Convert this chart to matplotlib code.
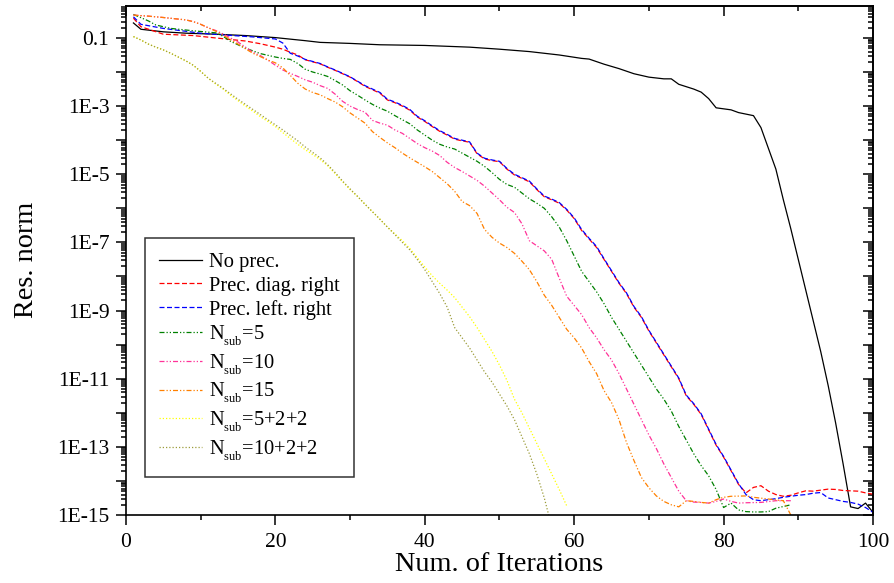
import matplotlib
matplotlib.use("Agg")
import matplotlib.pyplot as plt
import numpy as np
from matplotlib.ticker import LogLocator, FixedLocator, FuncFormatter, MultipleLocator, NullFormatter

plt.rcParams['font.family'] = ['Liberation Serif', 'DejaVu Serif']
plt.rcParams['mathtext.fontset'] = 'custom'
plt.rcParams['mathtext.rm'] = 'Liberation Serif'
plt.rcParams['mathtext.it'] = 'Liberation Serif:italic'

# smaller and lower subscripts, like the original (Origin-style) legend
try:
    import matplotlib._mathtext as _mt
    _mt.SHRINK_FACTOR = 0.6
    _mt.FontConstantsBase.sub1 = 0.65
except Exception:
    pass

# ---------------- data (iterations, log10 of residual norm) ----------------
it_noprec = [1,2,5,8,12,16,20,24,26,30,34,40,46,50,54,58,61,62,64,66,68,70,72,73,74,76,77,78,79,81,
             82,84,85,87,88,89,90,91,92,93,94,95,96,97,98,99,100]
lg_noprec = [-0.56,-0.745,-0.82,-0.86,-0.89,-0.93,-0.99,-1.08,-1.13,-1.16,-1.20,-1.22,-1.27,-1.33,-1.40,
             -1.50,-1.60,-1.62,-1.77,-1.90,-2.05,-2.15,-2.20,-2.20,-2.36,-2.50,-2.59,-2.78,-3.05,-3.11,
             -3.19,-3.28,-3.63,-4.85,-5.75,-6.6,-7.5,-8.4,-9.3,-10.2,-11.2,-12.3,-13.5,-14.76,-14.81,-14.65,-14.92]

it_diag = [1,2,5,9,12,16,18,20,21,22] + list(range(23, 101))
lg_diag = [-0.42,-0.67,-0.89,-0.93,-1.00,-1.09,-1.17,-1.27,-1.33,-1.42,
           -1.50,-1.64,-1.70,-1.76,-1.86,-1.95,-2.05,-2.15,-2.28,-2.42,
           -2.52,-2.62,-2.82,-2.90,-3.00,-3.12,-3.32,-3.45,-3.60,-3.74,
           -3.85,-3.97,-4.02,-4.06,-4.40,-4.55,-4.60,-4.63,-4.85,-5.02,
           -5.12,-5.22,-5.45,-5.66,-5.75,-5.85,-6.05,-6.30,-6.65,-6.90,
           -7.15,-7.50,-7.85,-8.20,-8.50,-8.90,-9.20,-9.60,-9.95,-10.30,
           -10.65,-11.00,-11.50,-11.75,-12.05,-12.50,-12.95,-13.30,-13.70,-14.10,
           -14.35,-14.19,-14.14,-14.30,-14.40,-14.45,-14.42,-14.35,-14.29,-14.30,
           -14.27,-14.24,-14.25,-14.28,-14.29,-14.30,-14.35,-14.39]

it_lr = [1,2,5,10,13,17,20,21,22,23] + list(range(24, 101))
lg_lr = [-0.38,-0.60,-0.72,-0.86,-0.91,-0.97,-1.03,-1.15,-1.45,-1.53,
         -1.63,-1.69,-1.75,-1.85,-1.94,-2.04,-2.14,-2.27,-2.40,
         -2.50,-2.60,-2.80,-2.88,-2.98,-3.10,-3.30,-3.43,-3.58,-3.72,
         -3.83,-3.95,-4.00,-4.05,-4.38,-4.53,-4.58,-4.62,-4.83,-5.00,
         -5.10,-5.20,-5.43,-5.64,-5.73,-5.83,-6.03,-6.28,-6.62,-6.88,
         -7.12,-7.48,-7.83,-8.18,-8.48,-8.88,-9.18,-9.58,-9.93,-10.28,
         -10.63,-10.98,-11.48,-11.73,-12.03,-12.48,-12.93,-13.28,-13.68,-14.08,
         -14.40,-14.55,-14.58,-14.55,-14.52,-14.48,-14.45,-14.42,-14.40,-14.36,
         -14.34,-14.50,-14.55,-14.60,-14.63,-14.68,-14.78,-14.92]

it_n5 = [1,3,4,6,9,12] + list(range(13, 90))
lg_n5 = [-0.31,-0.50,-0.62,-0.72,-0.79,-0.85,
         -0.95,-1.10,-1.20,-1.30,-1.38,-1.46,-1.51,-1.56,-1.60,-1.63,
         -1.75,-1.92,-2.00,-2.06,-2.13,-2.25,-2.38,-2.55,-2.68,-2.82,
         -2.95,-3.06,-3.15,-3.28,-3.40,-3.52,-3.70,-3.85,-4.00,-4.12,
         -4.20,-4.26,-4.38,-4.50,-4.62,-4.77,-4.95,-5.15,-5.30,-5.38,
         -5.55,-5.72,-5.85,-6.00,-6.25,-6.55,-6.95,-7.40,-7.85,-8.15,
         -8.45,-8.80,-9.20,-9.55,-9.90,-10.25,-10.60,-10.95,-11.30,-11.60,
         -11.95,-12.40,-12.80,-13.20,-13.55,-13.85,-14.25,-14.78,-14.65,-14.85,
         -14.90,-14.91,-14.91,-14.90,-14.80,-14.75,-14.70]

it_n10 = [1,3,5,8] + list(range(9, 84)) + [85,87,89]
lg_n10 = [-0.33,-0.36,-0.40,-0.47,
          -0.52,-0.60,-0.70,-0.78,-0.88,-1.00,-1.12,-1.27,-1.42,-1.52,
          -1.65,-1.80,-1.94,-2.04,-2.13,-2.23,-2.30,-2.40,-2.48,-2.65,
          -2.86,-3.00,-3.10,-3.18,-3.42,-3.50,-3.56,-3.70,-3.80,-3.95,
          -4.10,-4.22,-4.32,-4.45,-4.65,-4.80,-4.92,-5.05,-5.18,-5.35,
          -5.55,-5.75,-5.97,-6.12,-6.45,-6.95,-7.10,-7.25,-7.50,-8.05,
          -8.58,-8.85,-9.12,-9.50,-9.80,-10.15,-10.45,-10.85,-11.30,-11.75,
          -12.20,-12.65,-13.05,-13.50,-13.90,-14.30,-14.58,-14.62,-14.63,-14.65,
          -14.60,-14.53,-14.60,-14.65,-14.64,
          -14.63,-14.58,-14.58]

it_n15 = [1,3,5,8] + list(range(9, 82)) + [83,84,86,88,89]
lg_n15 = [-0.33,-0.36,-0.40,-0.47,
          -0.52,-0.60,-0.70,-0.80,-0.92,-1.05,-1.18,-1.32,-1.45,-1.55,
          -1.65,-1.73,-1.88,-2.10,-2.33,-2.50,-2.60,-2.67,-2.78,-2.88,
          -3.02,-3.20,-3.35,-3.50,-3.75,-3.92,-4.08,-4.22,-4.38,-4.52,
          -4.65,-4.78,-4.92,-5.10,-5.28,-5.50,-5.80,-5.92,-6.15,-6.62,
          -6.85,-7.02,-7.15,-7.32,-7.55,-7.80,-8.15,-8.55,-8.85,-9.20,
          -9.55,-9.80,-10.10,-10.50,-10.85,-11.35,-11.70,-12.20,-12.87,-13.40,
          -13.90,-14.20,-14.44,-14.60,-14.70,-14.76,-14.58,-14.60,-14.63,-14.65,
          -14.55,-14.48,-14.45,
          -14.44,-14.48,-14.53,-14.58,-15.00]

it_n522 = list(range(1, 60))
lg_n522 = [-0.96,-1.06,-1.18,-1.27,-1.35,-1.45,-1.56,-1.67,-1.80,-1.98,
           -2.18,-2.35,-2.50,-2.68,-2.84,-3.00,-3.15,-3.31,-3.45,-3.60,
           -3.78,-3.95,-4.12,-4.28,-4.42,-4.57,-4.75,-4.98,-5.22,-5.45,
           -5.65,-5.88,-6.10,-6.32,-6.55,-6.75,-6.95,-7.18,-7.45,-7.72,
           -7.98,-8.20,-8.40,-8.62,-8.90,-9.18,-9.50,-9.85,-10.20,-10.60,
           -11.05,-11.60,-12.00,-12.45,-12.90,-13.35,-13.80,-14.25,-14.73]

it_n1022 = list(range(1, 58))
lg_n1022 = [-0.96,-1.06,-1.18,-1.27,-1.35,-1.45,-1.56,-1.67,-1.80,-1.98,
            -2.18,-2.33,-2.48,-2.64,-2.80,-2.95,-3.10,-3.25,-3.40,-3.55,
            -3.70,-3.86,-4.02,-4.20,-4.36,-4.52,-4.72,-4.95,-5.20,-5.43,
            -5.65,-5.88,-6.10,-6.32,-6.55,-6.77,-7.00,-7.22,-7.50,-7.80,
            -8.15,-8.50,-8.90,-9.50,-9.80,-10.10,-10.45,-10.80,-11.10,-11.45,
            -11.80,-12.20,-12.70,-13.20,-13.80,-14.50,-15.35]

labels = ["No prec.", "Prec. diag. right", "Prec. left. right",
          r"N$_{\mathrm{sub}}$=5", r"N$_{\mathrm{sub}}$=10", r"N$_{\mathrm{sub}}$=15",
          r"N$_{\mathrm{sub}}$=5+2+2", r"N$_{\mathrm{sub}}$=10+2+2"]

series = [(it_noprec, lg_noprec), (it_diag, lg_diag), (it_lr, lg_lr), (it_n5, lg_n5),
          (it_n10, lg_n10), (it_n15, lg_n15), (it_n522, lg_n522), (it_n1022, lg_n1022)]

colors = ['#000000', '#ff0000', '#0000ff', '#008000', '#ff3399', '#ff8000', '#ffff00', '#9c9c3a']
dash = (0, (4, 1.6, 1, 1.6, 1, 1.6))
styles = ['-', (0, (4, 2)), (0, (4, 2)), dash, dash, dash, (0, (1, 1.6)), (0, (1, 1.6))]

# ---------------- figure ----------------
fig = plt.figure(figsize=(8.94, 5.83), dpi=100)
ax = fig.add_axes([0.1409, 0.1166, 0.8356, 0.8736])

for (xs, ys), lab, c, ls in zip(series, labels, colors, styles):
    ax.plot(xs, 10.0 ** np.array(ys), color=c, linestyle=ls, linewidth=0.9, label=lab)

ax.set_yscale('log')
ax.set_xlim(0, 100)
ax.set_ylim(1e-15, 10 ** -0.054)

ax.xaxis.set_major_locator(MultipleLocator(20))
ax.xaxis.set_minor_locator(MultipleLocator(10))
ax.yaxis.set_major_locator(FixedLocator([10.0 ** e for e in range(-15, 1)]))
ax.yaxis.set_minor_locator(LogLocator(base=10, subs=np.arange(2, 10), numticks=100))
ax.yaxis.set_minor_formatter(NullFormatter())

def yfmt(v, pos):
    e = int(round(np.log10(v)))
    if e % 2 == 0:
        return ""
    if e == -1:
        return "0.1"
    return "1E%d" % e

ax.yaxis.set_major_formatter(FuncFormatter(yfmt))

ax.tick_params(which='both', labelsize=15.5, width=1.1)
ax.tick_params(which='major', length=7)
ax.tick_params(which='minor', length=3.8)
ax.tick_params(axis='x', which='both', direction='out', top=False, pad=6)
ax.tick_params(axis='y', which='both', direction='out', right=False, pad=5)

# inward ticks on top and right via secondary axes
top = ax.secondary_xaxis('top')
top.xaxis.set_major_locator(MultipleLocator(20))
top.xaxis.set_minor_locator(MultipleLocator(10))
top.tick_params(which='both', direction='in', labeltop=False, width=1.1)
top.tick_params(which='major', length=7)
top.tick_params(which='minor', length=3.8)
right = ax.secondary_yaxis('right')
right.yaxis.set_major_locator(FixedLocator([10.0 ** e for e in range(-15, 1)]))
right.yaxis.set_minor_locator(LogLocator(base=10, subs=np.arange(2, 10), numticks=100))
right.tick_params(which='both', direction='in', labelright=False, width=1.1)
right.tick_params(which='major', length=7)
right.tick_params(which='minor', length=3.8)
right.yaxis.set_minor_formatter(NullFormatter())

for s in list(ax.spines.values()) + [top.spines['top'], right.spines['right']]:
    s.set_linewidth(1.2)

ax.set_xlabel("Num. of Iterations", fontsize=20.3)
ax.set_ylabel("Res. norm", fontsize=20.3)
ax.xaxis.set_label_coords(0.5, -0.072)
ax.yaxis.set_label_coords(-0.116, 0.5)

leg = ax.legend(loc='lower left', bbox_to_anchor=(0.0254, 0.0746), borderaxespad=0,
                fontsize=14.8, frameon=True, fancybox=False, framealpha=1,
                handlelength=2.1, handletextpad=0.3, borderpad=0.7, labelspacing=0.2)
leg.get_frame().set_edgecolor('#333333')
leg.get_frame().set_linewidth(1.1)

fig.savefig("out.png", dpi=100)
